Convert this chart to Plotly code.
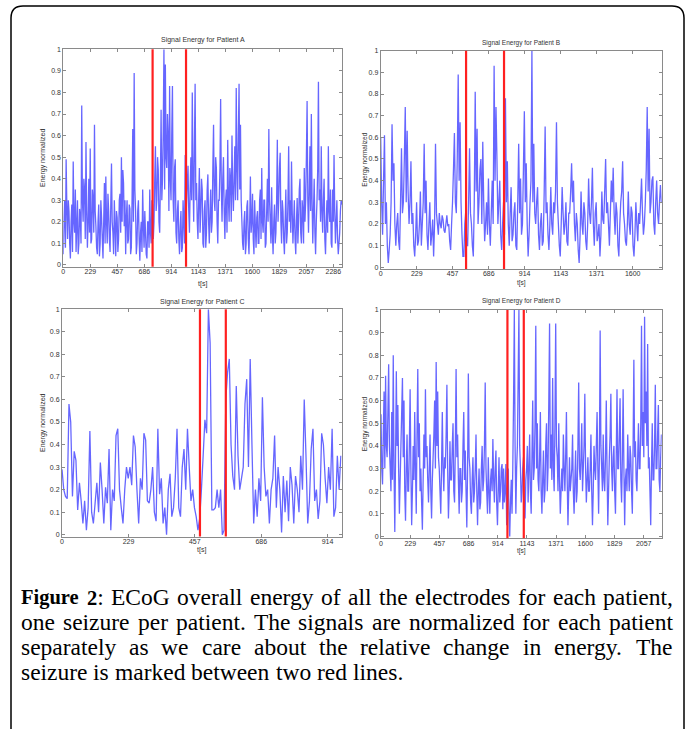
import plotly.graph_objects as go

W, H = 689, 729

# ---------------- data ----------------
step_a = 6  # seconds between samples
energy_a = [
    0.05, 0.22, 0.3, 0.08, 0.49, 0.27, 0.12, 0.3, 0.25, 0.1, 0.03, 0.2, 0.28, 0.06, 0.48, 0.2, 0.15, 0.35, 0.06, 0.18,
    0.3, 0.05, 0.1, 0.26, 0.22, 0.1, 0.74, 0.3, 0.2, 0.4, 0.35, 0.12, 0.57, 0.25, 0.08, 0.2, 0.4, 0.15, 0.54, 0.1,
    0.12, 0.35, 0.3, 0.15, 0.65, 0.25, 0.18, 0.08, 0.05, 0.2, 0.28, 0.04, 0.1, 0.3, 0.22, 0.12, 0.03, 0.2, 0.38, 0.1,
    0.41, 0.2, 0.1, 0.33, 0.25, 0.12, 0.06, 0.28, 0.47, 0.2, 0.15, 0.05, 0.3, 0.18, 0.04, 0.25, 0.22, 0.06, 0.12, 0.3,
    0.33, 0.15, 0.5, 0.2, 0.44, 0.38, 0.18, 0.3, 0.05, 0.22, 0.3, 0.1, 0.12, 0.28, 0.26, 0.05, 0.08, 0.3, 0.63, 0.2,
    0.89, 0.35, 0.25, 0.05, 0.1, 0.25, 0.3, 0.12, 0.02, 0.15, 0.2, 0.06, 0.35, 0.18, 0.08, 0.25, 0.15, 0.05, 0.03, 0.2,
    0.2, 0.08, 0.35, 0.15, 0.1, 0.3, 0.28, 0.12, 0.2, 0.4, 0.55, 0.25, 0.3, 0.5, 0.44, 0.2, 0.15, 0.38, 0.72, 0.3,
    0.4, 0.62, 1.0, 0.35, 0.93, 0.5, 0.45, 0.7, 0.6, 0.25, 0.83, 0.4, 0.3, 0.6, 0.83, 0.3, 0.2, 0.45, 0.49, 0.15,
    0.1, 0.25, 0.3, 0.12, 0.05, 0.18, 0.25, 0.06, 0.08, 0.3, 0.2, 0.1, 0.51, 0.2, 0.3, 0.38, 0.46, 0.25, 0.15, 0.35,
    0.5, 0.3, 0.8, 0.4, 0.2, 0.55, 0.84, 0.3, 0.38, 0.2, 0.12, 0.3, 0.45, 0.15, 0.25, 0.4, 0.35, 0.1, 0.08, 0.25,
    0.3, 0.08, 0.15, 0.35, 0.42, 0.2, 0.1, 0.25, 0.35, 0.15, 0.2, 0.45, 0.65, 0.3, 0.25, 0.5, 0.45, 0.2, 0.1, 0.3,
    0.3, 0.45, 0.77, 0.35, 0.2, 0.4, 0.5, 0.25, 0.12, 0.3, 0.35, 0.15, 0.58, 0.3, 0.2, 0.45, 0.4, 0.2, 0.6, 0.35,
    0.25, 0.4, 0.55, 0.3, 0.82, 0.45, 0.3, 0.6, 0.84, 0.35, 0.65, 0.3, 0.2, 0.1, 0.07, 0.2, 0.25, 0.05, 0.1, 0.27,
    0.3, 0.12, 0.05, 0.2, 0.41, 0.15, 0.2, 0.33, 0.12, 0.05, 0.3, 0.18, 0.08, 0.22, 0.25, 0.1, 0.1, 0.3, 0.35, 0.12,
    0.45, 0.2, 0.15, 0.3, 0.3, 0.08, 0.1, 0.25, 0.4, 0.2, 0.63, 0.3, 0.2, 0.1, 0.36, 0.15, 0.05, 0.2, 0.28, 0.1,
    0.15, 0.3, 0.58, 0.2, 0.3, 0.45, 0.52, 0.2, 0.1, 0.3, 0.25, 0.12, 0.05, 0.2, 0.35, 0.1, 0.15, 0.3, 0.55, 0.2,
    0.3, 0.15, 0.48, 0.25, 0.1, 0.2, 0.3, 0.12, 0.05, 0.2, 0.31, 0.1, 0.2, 0.35, 0.4, 0.15, 0.1, 0.3, 0.25, 0.1,
    0.45, 0.2, 0.3, 0.5, 0.76, 0.3, 0.15, 0.35, 0.55, 0.25, 0.7, 0.3, 0.1, 0.25, 0.4, 0.15, 0.05, 0.2, 0.3, 0.45,
    0.85, 0.3, 0.35, 0.2, 0.55, 0.25, 0.15, 0.3, 0.4, 0.12, 0.05, 0.2, 0.3, 0.15, 0.55, 0.25, 0.2, 0.35, 0.1, 0.08,
    0.35, 0.2, 0.51, 0.25, 0.1, 0.2, 0.3, 0.12, 0.05, 0.1, 0.15, 0.25, 0.3, 0.28,
]

step_b = 6
energy_b = [
    0.6, 0.3, 0.15, 0.4, 0.61, 0.2, 0.3, 0.1, 0.02, 0.08, 0.15, 0.3, 0.66, 0.4, 0.48, 0.2, 0.1, 0.2, 0.25, 0.12,
    0.08, 0.3, 0.55, 0.25, 0.3, 0.5, 0.74, 0.3, 0.63, 0.35, 0.2, 0.3, 0.49, 0.2, 0.25, 0.1, 0.05, 0.15, 0.3, 0.1,
    0.12, 0.2, 0.35, 0.1, 0.2, 0.3, 0.57, 0.25, 0.4, 0.15, 0.08, 0.2, 0.3, 0.1, 0.15, 0.22, 0.05, 0.2, 0.57, 0.25,
    0.2, 0.15, 0.25, 0.2, 0.18, 0.24, 0.22, 0.17, 0.16, 0.2, 0.24, 0.19, 0.2, 0.12, 0.08, 0.2, 0.3, 0.45, 0.62, 0.3,
    0.25, 0.5, 0.89, 0.4, 0.67, 0.3, 0.15, 0.05, 0.05, 0.2, 0.26, 0.1, 0.1, 0.3, 0.55, 0.25, 0.2, 0.1, 0.05, 0.3,
    0.81, 0.35, 0.64, 0.2, 0.3, 0.45, 0.5, 0.2, 0.58, 0.3, 0.12, 0.2, 0.3, 0.15, 0.41, 0.2, 0.1, 0.25, 0.4, 0.2,
    0.93, 0.4, 0.74, 0.5, 0.2, 0.3, 0.4, 0.15, 0.08, 0.2, 0.3, 0.15, 0.78, 0.3, 0.49, 0.2, 0.1, 0.25, 0.37, 0.12,
    0.15, 0.25, 0.3, 0.1, 0.08, 0.3, 0.57, 0.25, 0.41, 0.15, 0.2, 0.45, 0.72, 0.3, 0.48, 0.2, 0.05, 0.15, 0.3, 0.4,
    1.0, 0.3, 0.57, 0.25, 0.2, 0.3, 0.37, 0.15, 0.08, 0.2, 0.25, 0.1, 0.12, 0.35, 0.65, 0.25, 0.3, 0.15, 0.08, 0.2,
    0.37, 0.2, 0.15, 0.3, 0.25, 0.35, 0.67, 0.3, 0.2, 0.1, 0.05, 0.2, 0.37, 0.25, 0.15, 0.2, 0.3, 0.12, 0.1, 0.25,
    0.25, 0.35, 0.48, 0.3, 0.4, 0.2, 0.12, 0.25, 0.2, 0.08, 0.02, 0.15, 0.35, 0.2, 0.15, 0.3, 0.25, 0.12, 0.08, 0.2,
    0.41, 0.25, 0.2, 0.3, 0.46, 0.2, 0.1, 0.25, 0.3, 0.12, 0.15, 0.2, 0.05, 0.15, 0.35, 0.22, 0.2, 0.35, 0.5, 0.25,
    0.3, 0.2, 0.1, 0.25, 0.4, 0.3, 0.46, 0.25, 0.15, 0.3, 0.25, 0.1, 0.05, 0.2, 0.3, 0.35, 0.49, 0.25, 0.2, 0.12,
    0.1, 0.2, 0.35, 0.2, 0.15, 0.28, 0.25, 0.1, 0.05, 0.15, 0.3, 0.2, 0.12, 0.25, 0.2, 0.3, 0.41, 0.25, 0.15, 0.2,
    0.3, 0.45, 0.74, 0.35, 0.64, 0.25, 0.3, 0.4, 0.42, 0.2, 0.15, 0.3, 0.4, 0.25, 0.2, 0.3, 0.38, 0.3,
]

step_c = 6
energy_c = [
    0.29, 0.2, 0.17, 0.16, 0.58, 0.5, 0.17, 0.37, 0.33, 0.11,
    0.23, 0.15, 0.05, 0.15, 0.02, 0.12, 0.46, 0.1, 0.05, 0.14,
    0.23, 0.1, 0.32, 0.2, 0.05, 0.21, 0.14, 0.38, 0.02, 0.2,
    0.15, 0.44, 0.47, 0.2, 0.12, 0.05, 0.2, 0.3, 0.25, 0.3,
    0.22, 0.44, 0.39, 0.2, 0.05, 0.25, 0.2, 0.45, 0.42, 0.15,
    0.14, 0.2, 0.3, 0.1, 0.06, 0.47, 0.18, 0.25, 0.05, 0.12,
    0.0, 0.2, 0.27, 0.08, 0.12, 0.25, 0.47, 0.12, 0.08, 0.3,
    0.38, 0.2, 0.47, 0.3, 0.15, 0.2, 0.12, 0.08, 0.02, 0.07,
    0.2, 0.35, 0.51, 0.45, 1.0, 0.85, 0.11, 0.11, 0.12, 0.2,
    0.12, 0.2, 0.0, 0.02, 0.6, 0.72, 0.78, 0.4, 0.26, 0.2,
    0.66, 0.35, 0.2, 0.25, 0.3, 0.58, 0.69, 0.3, 0.78, 0.4,
    0.05, 0.2, 0.08, 0.25, 0.15, 0.61, 0.3, 0.17, 0.2, 0.05,
    0.2, 0.25, 0.44, 0.12, 0.3, 0.2, 0.01, 0.26, 0.1, 0.24,
    0.06, 0.3, 0.22, 0.05, 0.26, 0.2, 0.1, 0.35, 0.2, 0.6,
    0.35, 0.05, 0.15, 0.38, 0.47, 0.15, 0.2, 0.07, 0.15, 0.45,
    0.4, 0.25, 0.14, 0.3, 0.2, 0.47, 0.08, 0.12, 0.35, 0.2, 0.35,
]

step_d = 6
energy_d = [
    0.54, 0.3, 0.23, 0.45, 0.64, 0.3, 0.71, 0.4, 0.35, 0.55, 0.76, 0.4, 0.3, 0.2, 0.55, 0.25, 0.8, 0.3, 0.02, 0.35,
    0.73, 0.4, 0.58, 0.3, 0.1, 0.25, 0.4, 0.55, 0.7, 0.35, 0.6, 0.2, 0.07, 0.3, 0.45, 0.2, 0.2, 0.4, 0.65, 0.3,
    0.05, 0.2, 0.4, 0.25, 0.55, 0.3, 0.1, 0.45, 0.74, 0.35, 0.5, 0.2, 0.3, 0.15, 0.03, 0.25, 0.45, 0.3, 0.65, 0.35,
    0.4, 0.25, 0.15, 0.3, 0.45, 0.2, 0.08, 0.25, 0.35, 0.45, 0.6, 0.3, 0.77, 0.4, 0.64, 0.35, 0.3, 0.2, 0.1, 0.3,
    0.55, 0.3, 0.2, 0.35, 0.3, 0.45, 0.67, 0.3, 0.08, 0.2, 0.42, 0.25, 0.25, 0.4, 0.5, 0.2, 0.15, 0.4, 0.74, 0.35,
    0.45, 0.25, 0.1, 0.3, 0.3, 0.15, 0.2, 0.4, 0.55, 0.25, 0.38, 0.2, 0.04, 0.3, 0.72, 0.35, 0.3, 0.15, 0.1, 0.25,
    0.35, 0.15, 0.2, 0.3, 0.45, 0.2, 0.05, 0.2, 0.3, 0.12, 0.15, 0.3, 0.4, 0.2, 0.25, 0.4, 0.68, 0.3, 0.2, 0.1,
    0.35, 0.2, 0.1, 0.25, 0.3, 0.2, 0.43, 0.25, 0.15, 0.3, 0.38, 0.15, 0.05, 0.2, 0.35, 0.15, 0.2, 0.3, 0.32, 0.12,
    0.3, 0.15, 0.2, 0.32, 0.05, 0.2, 0.3, 0.1, 0.0, 0.15, 0.25, 0.1, 0.3, 0.6, 1.0, 0.4, 0.1, 0.3, 0.4, 0.7,
    1.0, 0.4, 0.3, 0.15, 0.2, 0.3, 0.35, 0.1, 0.08, 0.25, 0.3, 0.4, 0.15, 0.3, 0.45, 0.2, 0.1, 0.35, 0.6, 0.25,
    0.3, 0.5, 0.93, 0.3, 0.5, 0.25, 0.2, 0.35, 0.55, 0.2, 0.1, 0.25, 0.38, 0.15, 0.2, 0.4, 0.5, 0.2, 0.3, 0.6,
    0.94, 0.3, 0.45, 0.25, 0.7, 0.3, 0.2, 0.5, 0.94, 0.4, 0.35, 0.2, 0.5, 0.25, 0.1, 0.2, 0.3, 0.2, 0.45, 0.3,
    0.2, 0.35, 0.55, 0.25, 0.05, 0.2, 0.35, 0.2, 0.25, 0.3, 0.45, 0.2, 0.1, 0.25, 0.38, 0.15, 0.2, 0.4, 0.68, 0.3,
    0.25, 0.35, 0.5, 0.2, 0.3, 0.4, 0.63, 0.3, 0.15, 0.25, 0.35, 0.2, 0.2, 0.3, 0.45, 0.2, 0.05, 0.2, 0.4, 0.3,
    0.25, 0.4, 0.55, 0.3, 0.1, 0.35, 0.91, 0.4, 0.3, 0.2, 0.45, 0.25, 0.2, 0.35, 0.6, 0.3, 0.05, 0.2, 0.35, 0.45,
    0.63, 0.3, 0.2, 0.35, 0.4, 0.2, 0.1, 0.35, 0.65, 0.3, 0.3, 0.45, 0.61, 0.25, 0.15, 0.35, 0.65, 0.3, 0.05, 0.25,
    0.3, 0.2, 0.45, 0.3, 0.2, 0.4, 0.35, 0.2, 0.1, 0.4, 0.78, 0.35, 0.42, 0.25, 0.2, 0.35, 0.5, 0.3, 0.3, 0.5,
    0.93, 0.4, 0.55, 0.35, 0.97, 0.5, 0.64, 0.4, 0.85, 0.3, 0.35, 0.2, 0.05, 0.3, 0.5, 0.25, 0.25, 0.4, 0.67, 0.3,
    0.3, 0.45, 0.58, 0.25, 0.2, 0.35, 0.45,
]

seizure_a = [756, 1039]
seizure_b = [542, 783]
seizure_c = [475, 564]
seizure_d = [990, 1118]

xticks_a = [0, 229, 457, 686, 914, 1143, 1371, 1600, 1829, 2057, 2286]
xticks_b = [0, 229, 457, 686, 914, 1143, 1371, 1600]
xticks_c = [0, 229, 457, 686, 914]
xticks_d = [0, 229, 457, 686, 914, 1143, 1371, 1600, 1829, 2057]
xmax = {"A": 2362, "B": 1784, "C": 963, "D": 2198}

yticks = [0, 0.1, 0.2, 0.3, 0.4, 0.5, 0.6, 0.7, 0.8, 0.9, 1]
ytick_text = ["0", "0.1", "0.2", "0.3", "0.4", "0.5", "0.6", "0.7", "0.8", "0.9", "1"]

titles = ["Signal Energy for Patient A", "Signal Energy for Patient B",
          "Signal Energy for Patient C", "Signal Energy for Patient D"]
y_title = "Energy normalized"
x_title = "t[s]"

# caption, one list of words per printed line (the first three lines are justified)
caption_lines = [
    ["<b>Figure</b>", "<b>2</b>:", "ECoG", "overall", "energy", "of", "all", "the",
     "electrodes", "for", "each", "patient,"],
    ["one", "seizure", "per", "patient.", "The", "signals", "are", "normalized",
     "for", "each", "patient"],
    ["separately", "as", "we", "care", "about", "the", "relative", "change", "in",
     "energy.", "The"],
    ["seizure", "is", "marked", "between", "two", "red", "lines."],
]

# ---------------- layout (pixel boxes of the four axes) ----------------
panels = [
    dict(key="A", values=energy_a, step=step_a, ticks=xticks_a, seiz=seizure_a,
         box=(63.3, 49.3, 342.3, 266.7), title_y=40, xt_y=284, yt_x=43, tsize=7),
    dict(key="B", values=energy_b, step=step_b, ticks=xticks_b, seiz=seizure_b,
         box=(380.7, 50.7, 661.7, 269.0), title_y=42.5, xt_y=283, yt_x=365, tsize=6.5),
    dict(key="C", values=energy_c, step=step_c, ticks=xticks_c, seiz=seizure_c,
         box=(62.0, 309.3, 341.7, 536.5), title_y=301.5, xt_y=550, yt_x=43, tsize=7),
    dict(key="D", values=energy_d, step=step_d, ticks=xticks_d, seiz=seizure_d,
         box=(381.0, 310.0, 661.7, 538.3), title_y=301, xt_y=551, yt_x=365, tsize=6.5),
]


def px(x):
    return x / W


def py(y):
    return 1 - y / H


# Times-compatible advance widths (per 1000 em) for the caption font
_REG = {" ": 250, ",": 250, ".": 250, ":": 278, "2": 500,
        "a": 444, "b": 500, "c": 444, "d": 500, "e": 444, "f": 333, "g": 500, "h": 500,
        "i": 278, "j": 278, "k": 500, "l": 278, "m": 778, "n": 500, "o": 500, "p": 500,
        "q": 500, "r": 333, "s": 389, "t": 278, "u": 500, "v": 500, "w": 722, "x": 500,
        "y": 500, "z": 444, "C": 667, "E": 611, "F": 556, "G": 722, "T": 611}
_BOLD = {"F": 611, "i": 278, "g": 500, "u": 556, "r": 444, "e": 444, "2": 500, " ": 250}

cap_size, bold_size = 23.5, 20.5


def word_width(html):
    bold = False
    total = 0.0
    i = 0
    while i < len(html):
        if html.startswith("<b>", i):
            bold, i = True, i + 3
            continue
        if html.startswith("</b>", i):
            bold, i = False, i + 4
            continue
        ch = html[i]
        if bold:
            total += _BOLD.get(ch, 500) * bold_size / 1000.0
        else:
            total += _REG.get(ch, 500) * cap_size / 1000.0
        i += 1
    return total


def styled(html):
    return html.replace("<b>", f"<b><span style='font-size:{bold_size}px'>").replace(
        "</b>", "</span></b>")


fig = go.Figure()
layout = dict(
    width=W, height=H, margin=dict(l=0, r=0, t=0, b=0),
    paper_bgcolor="white", plot_bgcolor="white", showlegend=False,
)
annotations = []
shapes = []
axis_color = "#8a8a8a"
tick_font = dict(family="Liberation Sans, Arial", size=7, color="#333333")

for i, p in enumerate(panels, start=1):
    xa = "x" if i == 1 else f"x{i}"
    ya = "y" if i == 1 else f"y{i}"
    x0, y0, x1, y1 = p["box"]
    times = [k * p["step"] for k in range(len(p["values"]))]
    fig.add_trace(go.Scatter(
        x=times, y=p["values"], mode="lines",
        line=dict(color="rgba(0,0,255,0.6)", width=1.3, simplify=False),
        xaxis=xa, yaxis=ya, hoverinfo="skip",
    ))
    common = dict(showline=True, linecolor=axis_color, linewidth=1, mirror="ticks",
                  ticks="inside", ticklen=3, tickcolor=axis_color, tickwidth=1,
                  showgrid=False, zeroline=False, tickfont=tick_font, automargin=False)
    layout["xaxis" if i == 1 else f"xaxis{i}"] = dict(
        domain=[px(x0), px(x1)], range=[0, xmax[p["key"]]],
        tickvals=p["ticks"], ticktext=[str(v) for v in p["ticks"]],
        ticklabelstandoff=-2, anchor=ya, **common)
    layout["yaxis" if i == 1 else f"yaxis{i}"] = dict(
        domain=[py(y1), py(y0)], range=[-0.008, 1.0],
        tickvals=yticks, ticktext=ytick_text, anchor=xa, **common)
    for s in p["seiz"]:
        shapes.append(dict(type="line", xref=xa, yref=f"{ya} domain",
                           x0=s, x1=s, y0=0, y1=1,
                           line=dict(color="#ff2020", width=2.2)))
    cx = (x0 + x1) / 2
    lf = dict(family="Liberation Sans, Arial", size=p["tsize"], color="#333333")
    annotations.append(dict(text=titles[i - 1], x=px(cx), y=py(p["title_y"]),
                            xref="paper", yref="paper", showarrow=False,
                            xanchor="center", yanchor="middle", font=lf))
    annotations.append(dict(text=x_title, x=px(cx), y=py(p["xt_y"]),
                            xref="paper", yref="paper", showarrow=False,
                            xanchor="center", yanchor="middle", font=lf))
    annotations.append(dict(text=y_title, x=px(p["yt_x"]), y=py((y0 + y1) / 2),
                            xref="paper", yref="paper", showarrow=False, textangle=-90,
                            xanchor="center", yanchor="middle", font=lf))

# caption: justified between left/right text edges
cap_left, cap_right = 20, 672
cap_y = [597, 622, 647, 672]
cap_font = dict(family="Liberation Serif", size=cap_size, color="black")
for n, (words, yy) in enumerate(zip(caption_lines, cap_y)):
    widths = [word_width(w) for w in words]
    if n < len(caption_lines) - 1:
        gap = (cap_right - cap_left - sum(widths)) / (len(words) - 1)
    else:
        gap = 250 * cap_size / 1000.0
    xcur = cap_left
    for w, wd in zip(words, widths):
        annotations.append(dict(text=styled(w), x=px(xcur), y=py(yy), xref="paper",
                                yref="paper", showarrow=False, xanchor="left",
                                yanchor="middle", borderpad=0, font=cap_font))
        xcur += wd + gap

# outer rounded frame
fx0, fy0, fx1, fy1, r = 11, 6, 684, 745, 12
path = (f"M {px(fx0)},{py(fy1)} L {px(fx0)},{py(fy0 + r)} "
        f"Q {px(fx0)},{py(fy0)} {px(fx0 + r)},{py(fy0)} "
        f"L {px(fx1 - r)},{py(fy0)} Q {px(fx1)},{py(fy0)} {px(fx1)},{py(fy0 + r)} "
        f"L {px(fx1)},{py(fy1)}")
shapes.append(dict(type="path", xref="paper", yref="paper", path=path,
                   line=dict(color="black", width=1.5)))

layout["annotations"] = annotations
layout["shapes"] = shapes
fig.update_layout(**layout)
fig.write_html("out.html")
